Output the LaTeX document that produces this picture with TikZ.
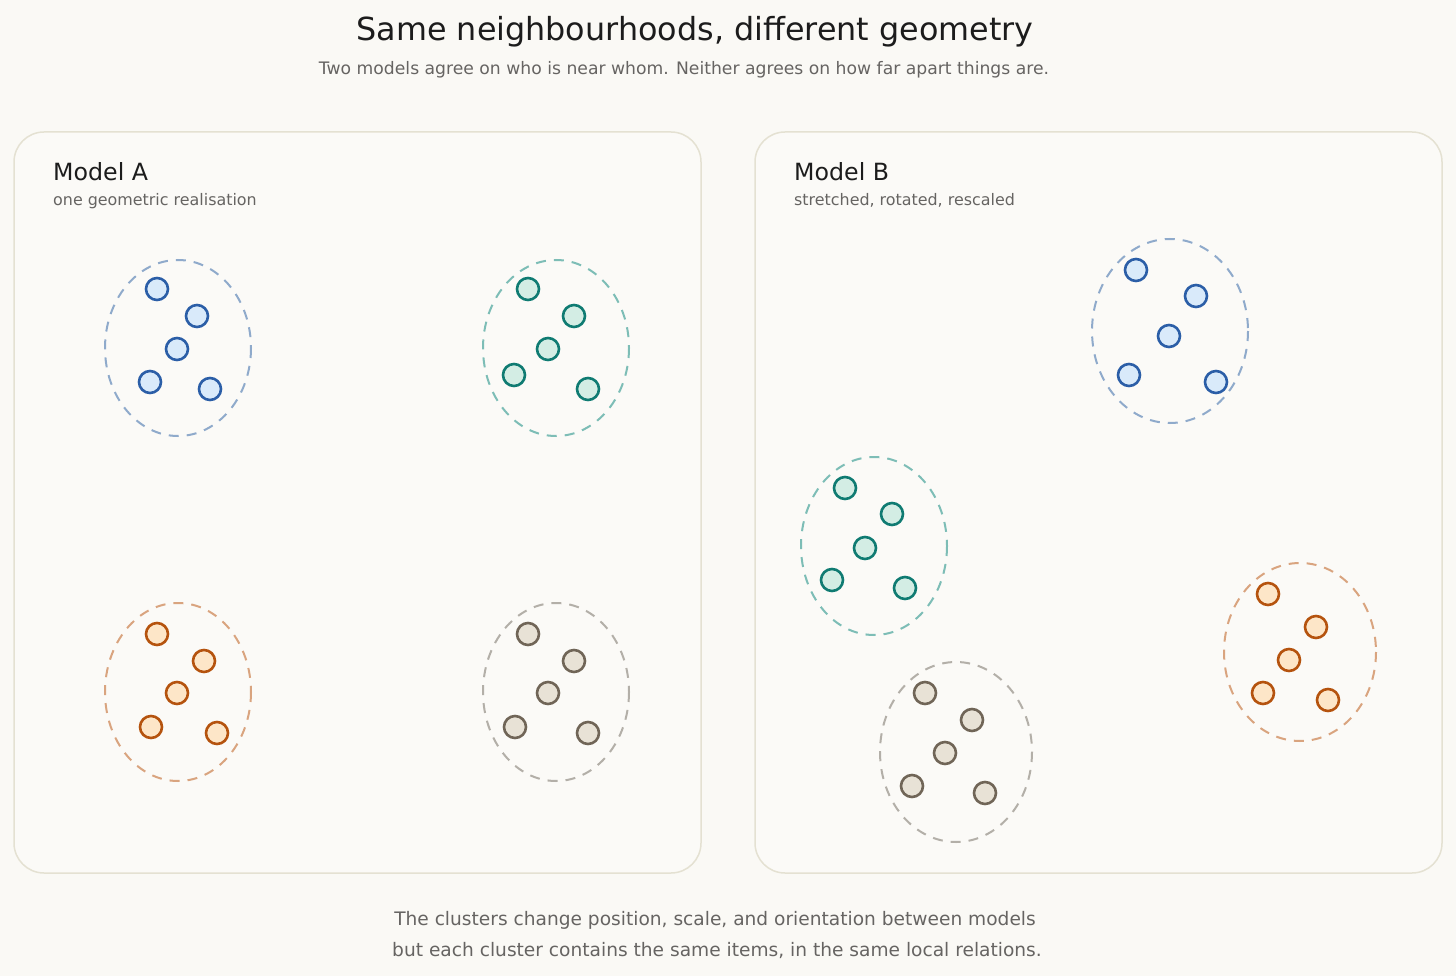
\documentclass[tikz,border=0pt]{standalone}
\usepackage{fontspec}
\setmainfont{DejaVu Sans}
\usetikzlibrary{positioning}

\definecolor{paper}{HTML}{FAF9F5}
\definecolor{card}{HTML}{FBFAF7}
\definecolor{cardline}{HTML}{E4E1D2}
\definecolor{ink}{HTML}{1C1C1C}
\definecolor{muted}{HTML}{666462}
\definecolor{blueline}{HTML}{2B5EA7}
\definecolor{bluefill}{HTML}{D9EAFA}
\definecolor{bluering}{HTML}{8FAACB}
\definecolor{tealline}{HTML}{0F7B72}
\definecolor{tealfill}{HTML}{D3EDE4}
\definecolor{tealring}{HTML}{7DBDB6}
\definecolor{orangeline}{HTML}{B5530E}
\definecolor{orangefill}{HTML}{FDE6C8}
\definecolor{orangering}{HTML}{D9A47F}
\definecolor{greyline}{HTML}{706557}
\definecolor{greyfill}{HTML}{E8E2D6}
\definecolor{greyring}{HTML}{B3AFA8}

\tikzset{
  panel/.style={draw=cardline, fill=card, line width=1.5, rounded corners=30},
  ring/.style={line width=2, dash pattern=on 10 off 8},
  dot/.style={circle, minimum size=22, inner sep=0, line width=2.6},
  bdot/.style={dot, draw=blueline, fill=bluefill},
  tdot/.style={dot, draw=tealline, fill=tealfill},
  odot/.style={dot, draw=orangeline, fill=orangefill},
  gdot/.style={dot, draw=greyline, fill=greyfill},
  head/.style={anchor=base west, inner sep=0, font=\fontsize{23.7}{28}\selectfont, text=ink},
  note/.style={anchor=base west, inner sep=0, font=\fontsize{15.9}{19}\selectfont, text=muted},
  lede/.style={anchor=base, inner sep=0, font=\fontsize{18.6}{22}\selectfont, text=muted}
}

\begin{document}
\begin{tikzpicture}[x=1pt,y=-1pt]
\fill[paper] (0,0) rectangle (1456,976);
\useasboundingbox (0,0) rectangle (1456,976);

% titles
\node[anchor=base, inner sep=0, font=\fontsize{31.8}{36}\selectfont, text=ink] (title) at (695,41) {Same neighbourhoods, different geometry};
\node[anchor=base, inner sep=0, font=\fontsize{17.2}{20}\selectfont, text=muted] (subtitle) at (684,75) {Two models agree on who is near whom. Neither agrees on how far apart things are.};

% panels
\draw[panel] (14,132) rectangle (701,873);
\draw[panel] (755,132) rectangle (1442,873);
\node[head] (modelA) at (53,181) {Model A};
\node[note] (noteA) at (53,206) {one geometric realisation};
\node[head] (modelB) at (794,181) {Model B};
\node[note] (noteB) at (794,206) {stretched, rotated, rescaled};

% model A clusters
\draw[ring, bluering] (178,348) ellipse (73 and 88);
\draw[ring, tealring] (556,348) ellipse (73 and 88);
\draw[ring, orangering] (178,692) ellipse (73 and 89);
\draw[ring, greyring] (556,692) ellipse (73 and 89);
\foreach \x/\y [count=\i] in {157/289, 197/316, 177/349, 150/382, 210/389} \node[bdot] (ab\i) at (\x,\y) {};
\foreach \x/\y [count=\i] in {528/289, 574/316, 548/349, 514/375, 588/389} \node[tdot] (at\i) at (\x,\y) {};
\foreach \x/\y [count=\i] in {157/634, 204/661, 177/693, 151/727, 217/733} \node[odot] (ao\i) at (\x,\y) {};
\foreach \x/\y [count=\i] in {528/634, 574/661, 548/693, 515/727, 588/733} \node[gdot] (ag\i) at (\x,\y) {};

% model B clusters
\draw[ring, bluering] (1170,331) ellipse (78 and 92);
\draw[ring, tealring] (874,546) ellipse (73 and 89);
\draw[ring, orangering] (1300,652) ellipse (76 and 89);
\draw[ring, greyring] (956,752) ellipse (76 and 90);
\foreach \x/\y [count=\i] in {1136/270, 1196/296, 1169/336, 1129/375, 1216/382} \node[bdot] (bb\i) at (\x,\y) {};
\foreach \x/\y [count=\i] in {845/488, 892/514, 865/548, 832/580, 905/588} \node[tdot] (bt\i) at (\x,\y) {};
\foreach \x/\y [count=\i] in {1268/594, 1316/627, 1289/660, 1263/693, 1328/700} \node[odot] (bo\i) at (\x,\y) {};
\foreach \x/\y [count=\i] in {925/693, 972/720, 945/753, 912/786, 985/793} \node[gdot] (bg\i) at (\x,\y) {};

% caption
\node[lede] (cap1) at (715,925) {The clusters change position, scale, and orientation between models};
\node[lede] (cap2) at (717,956) {but each cluster contains the same items, in the same local relations.};
\end{tikzpicture}
\end{document}
